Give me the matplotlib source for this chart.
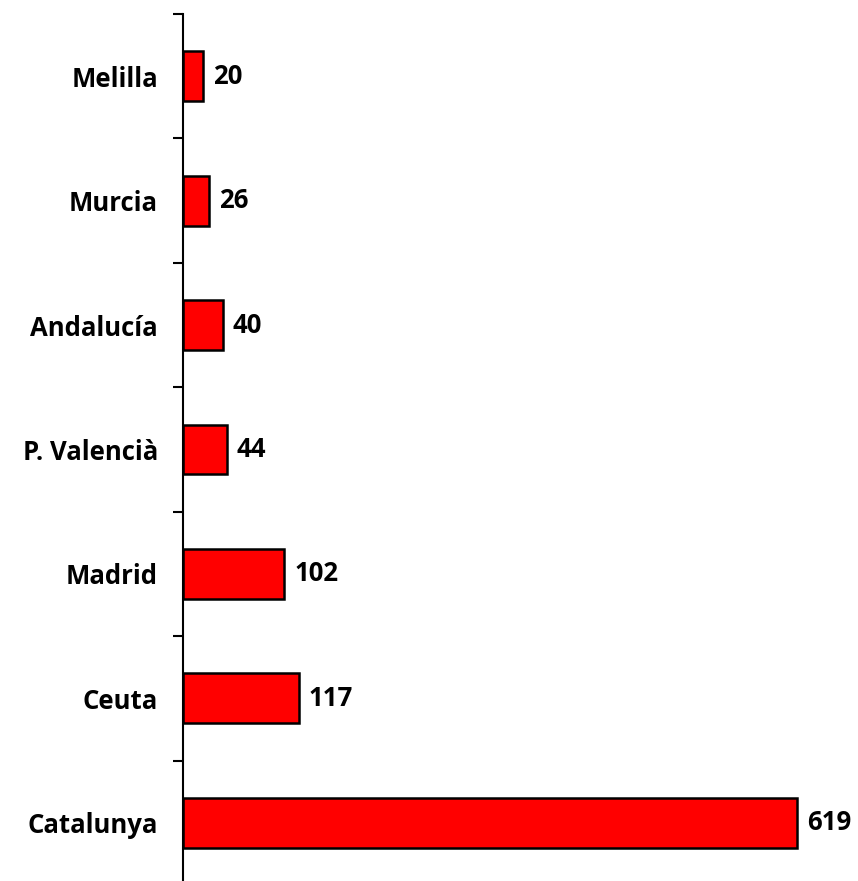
import matplotlib
matplotlib.use("Agg")
import matplotlib.pyplot as plt
import numpy as np

# data, top to bottom as in the chart
regions = ["Melilla", "Murcia", "Andalucía", "P. Valencià", "Madrid", "Ceuta", "Catalunya"]
values = [20, 26, 40, 44, 102, 117, 619]

plt.rcParams['font.family'] = ['Open Sans', 'DejaVu Sans']

fig = plt.figure(figsize=(8.58, 8.81), dpi=100)
# axes placed in figure pixels: left edge at x=183, top at y=14, bottom just below the image
ax = fig.add_axes([183/858, (881-885)/881, (858-183)/858, 871/881])

pos = np.arange(len(regions))[::-1]
ax.barh(pos, values, height=0.4, color='#ff0000', edgecolor='black', linewidth=1.8)

for p, v in zip(pos, values):
    ax.text(v + 10, p, str(v), va='center', ha='left', fontsize=18.5, fontweight='bold')

ax.set_xlim(0, (858-183)/0.992)
ax.set_ylim(-0.5, len(regions) - 0.5)

ax.set_yticks(pos)
ax.set_yticklabels(regions, fontsize=18.5, fontweight='bold')
ax.set_yticks(np.arange(len(regions)) + 0.5, minor=True)
ax.tick_params(axis='y', which='major', length=0, pad=18)
ax.tick_params(axis='y', which='minor', length=7, width=1.5, direction='out')
ax.set_xticks([])

for s in ['top', 'right', 'bottom']:
    ax.spines[s].set_visible(False)
ax.spines['left'].set_linewidth(1.5)

fig.savefig('out.png', dpi=100)
